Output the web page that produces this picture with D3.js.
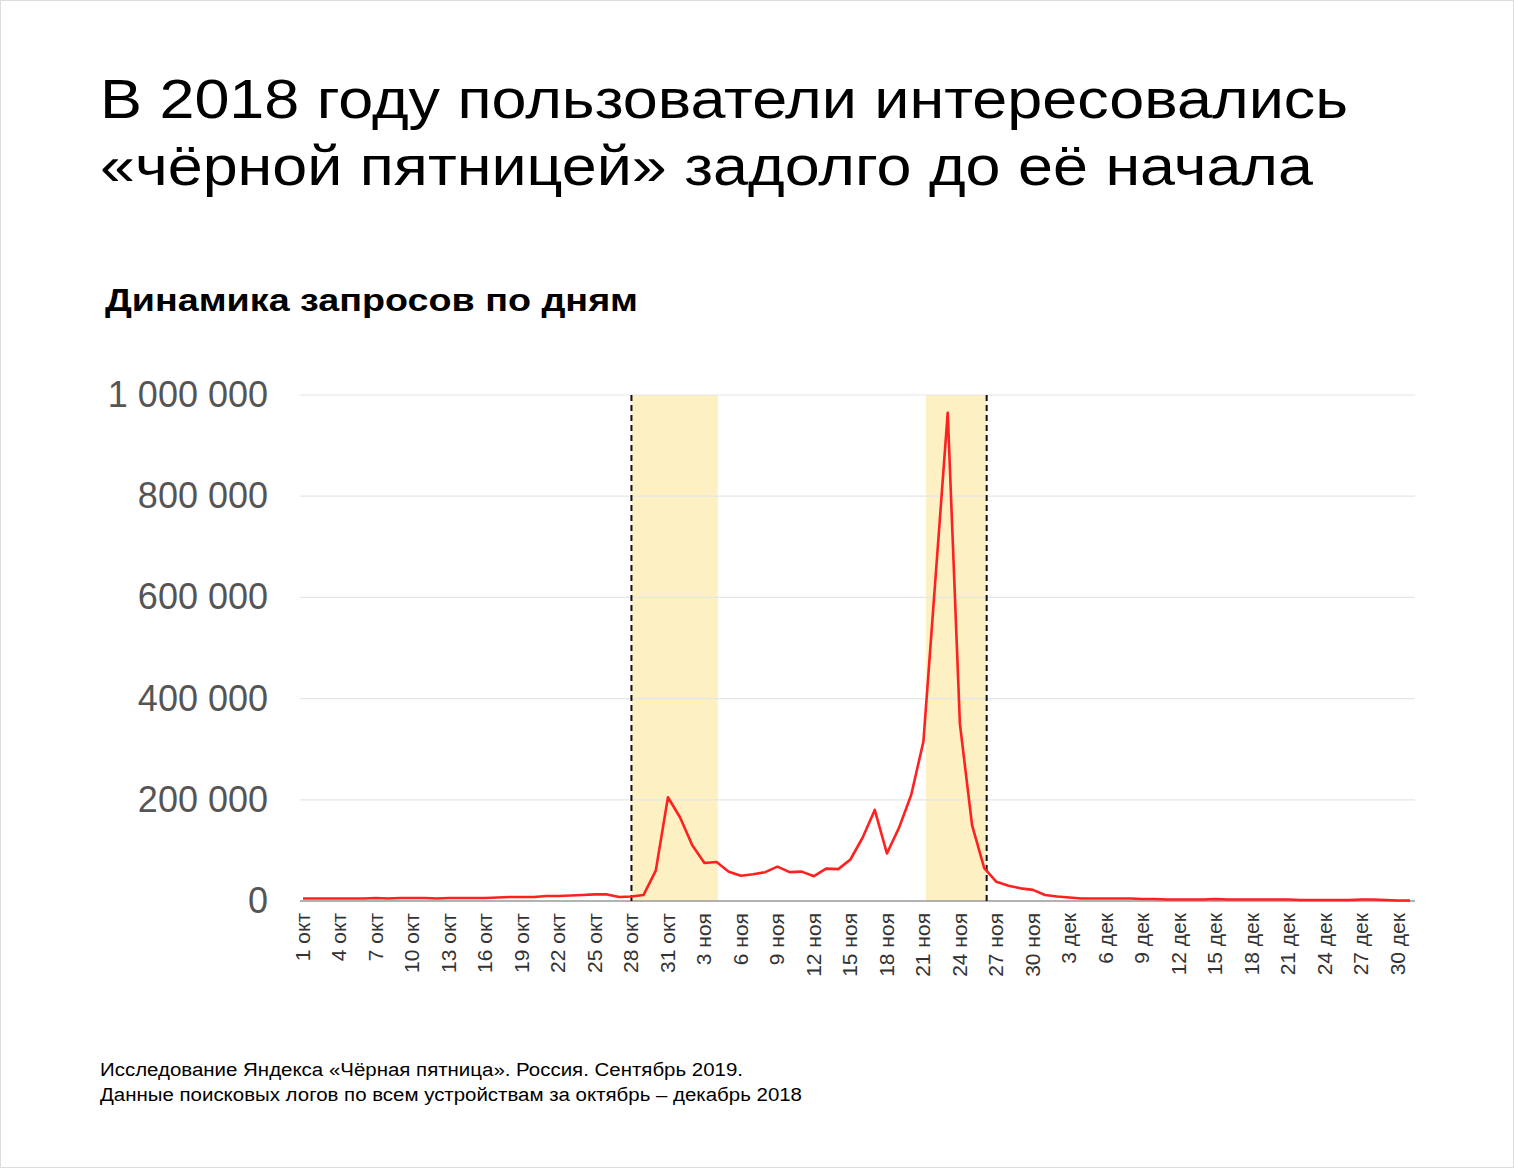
<!DOCTYPE html>
<html><head><meta charset="utf-8">
<script src="https://cdn.jsdelivr.net/npm/d3@7"></script>
<style>body{margin:0;background:#fff}svg{font-family:Arial,"Liberation Sans",sans-serif}</style>
</head><body><svg id="c" width="1514" height="1168"></svg>
<script>
const monthNames = ["окт","ноя","дек"];
const monthDays = [31,30,31];
const values = [
 5000,5000,5000,5000,5000,5000,6000,5000,6000,6000,6000,5000,6000,6000,6000,6000,7000,8000,8000,8000,10000,10000,11000,12000,13000,13000,8000,
 9000,12000,60000,205000,165000,110000,75000,77000,58000,50000,53000,57000,68000,57000,58000,49000,64000,63000,82000,125000,180000,94000,145000,210000,315000,640000,965000,350000,150000,65000,38000,30000,25000,22000,
 12000,9000,7000,5000,5000,5000,5000,5000,4000,4000,3000,3000,3000,3000,4000,3000,3000,3000,3000,3000,3000,2000,2000,2000,2000,2000,3000,3000,2000,1000,1000
];
const yTicks = [0,200000,400000,600000,800000,1000000];
const bands = [[27,34.1],[51.2,56.2]];
const dashes = [27,56.2];

const dayLabels = [];
monthNames.forEach((m,i)=>{for(let d=1;d<=monthDays[i];d++)dayLabels.push(d+" "+m);});

const svg = d3.select("#c");
svg.append("rect").attr("x",0.5).attr("y",0.5).attr("width",1513).attr("height",1167).attr("fill","#fff").attr("stroke","#ddd");
function t(xp,yp,size,len,str,bold){
  const e=svg.append("text").attr("x",xp).attr("y",yp).attr("font-size",size).attr("fill","#000")
   .attr("textLength",len).attr("lengthAdjust","spacingAndGlyphs").text(str);
  if(bold)e.attr("font-weight","bold");
}
t(100,118,56,1248,"В 2018 году пользователи интересовались");
t(100,185,56,1213,"«чёрной пятницей» задолго до её начала");
t(105,311,32,533,"Динамика запросов по дням",true);
t(100,1076,18,643,"Исследование Яндекса «Чёрная пятница». Россия. Сентябрь 2019.");
t(100,1101,18,702,"Данные поисковых логов по всем устройствам за октябрь – декабрь 2018");

const x = d3.scaleLinear().domain([0,91]).range([303,1410]);
const y = d3.scaleLinear().domain([0,1000000]).range([901,395]);

svg.append("g").selectAll("rect").data(bands).join("rect")
 .attr("x",d=>x(d[0])).attr("width",d=>x(d[1])-x(d[0])).attr("y",y(1000000)).attr("height",y(0)-y(1000000)).attr("fill","#fdf0c2");

svg.append("g").selectAll("line").data(yTicks.slice(1)).join("line")
 .attr("x1",300).attr("x2",1415).attr("y1",d=>y(d)).attr("y2",d=>y(d)).attr("stroke","#e6e6e6").attr("stroke-width",1.2);
svg.append("g").selectAll("text").data(yTicks).join("text")
 .attr("x",268).attr("y",d=>y(d)+12).attr("text-anchor","end").attr("font-size",36).attr("fill","#555")
 .text(d=>d3.format(",")(d).replace(/,/g," "));

svg.append("line").attr("x1",300).attr("x2",1415).attr("y1",y(0)).attr("y2",y(0)).attr("stroke","#999").attr("stroke-width",1.5);

svg.append("g").selectAll("line").data(dashes).join("line")
 .attr("x1",d=>x(d)).attr("x2",d=>x(d)).attr("y1",y(1000000)).attr("y2",y(0)).attr("stroke","#111").attr("stroke-width",2).attr("stroke-dasharray","6,4");

const tickIdx = d3.range(0,92,3);
svg.append("g").selectAll("text").data(tickIdx).join("text")
 .attr("transform",d=>`translate(${x(d)+7},913) rotate(-90)`).attr("text-anchor","end").attr("font-size",21).attr("fill","#333")
 .text(d=>dayLabels[d]);

svg.append("path").datum(values).attr("fill","none").attr("stroke","#ff2020").attr("stroke-width",2.6).attr("stroke-linejoin","round")
 .attr("d",d3.line().x((d,i)=>x(i)).y(d=>y(d)));
</script></body></html>
